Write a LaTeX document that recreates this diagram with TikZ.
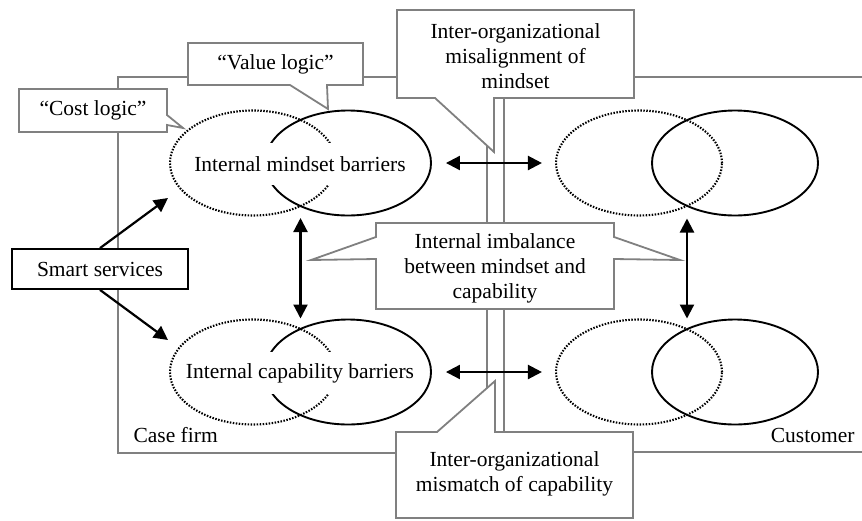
\documentclass[tikz,border=0pt]{standalone}
\usepackage{fontspec}
\setmainfont{Liberation Serif}
\usetikzlibrary{shapes.geometric,arrows.meta,calc}
\begin{document}
\begin{tikzpicture}[x=1pt,y=-1pt,font=\fontsize{21.5}{25}\selectfont,line join=miter,
  frame/.style={draw=black!50,line width=1.8pt},
  callout/.style={draw=black!50,fill=white,line width=1.8pt},
  ell/.style={ellipse,minimum width=166pt,minimum height=105pt,inner sep=0pt,line width=1.9pt},
  dotell/.style={ell,draw,line width=2.1pt,dash pattern=on 1.5pt off 1.5pt},
  solell/.style={ell,draw},
  barrier/.style={fill=white,inner sep=0pt,minimum width=230pt,minimum height=42pt},
  arr/.style={line width=2.2pt,-{Triangle[length=14pt,width=14pt]}},
  dbl/.style={line width=2.2pt,{Triangle[length=14pt,width=14pt]}-{Triangle[length=14pt,width=14pt]}}]
\useasboundingbox (0,0) rectangle (862,520);
\draw[frame] (118,77) rectangle (487,453);
\draw[frame] (504,77) rectangle (880,452);
\node[anchor=base west] (firm) at (130,442) {Case firm};
\node[anchor=base east] (cust) at (858,442) {Customer};

\node[dotell] (mdot) at (253,163) {};
\node[solell] (msol) at (348,163) {};
\node[dotell] (cdot) at (253,372) {};
\node[solell] (csol) at (348,372) {};
\node[dotell] (cmdot) at (639,163) {};
\node[solell] (cmsol) at (735,163) {};
\node[dotell] (ccdot) at (639,372) {};
\node[solell] (ccsol) at (735,372) {};
\node[barrier] (mind) at (300,164) {Internal mindset barriers};
\node[barrier] (capa) at (300,373) {Internal capability barriers};

\node[draw,line width=1.8pt,fill=white,minimum width=176pt,minimum height=40pt,inner sep=0pt] (smart) at (100,269) {Smart services};
\coordinate (mtip) at (168,198);
\coordinate (ctip) at (168,340);
\draw[arr] (smart.north) -- (mtip);
\draw[arr] (smart.south) -- (ctip);
\draw[dbl,shorten <=14pt,shorten >=13pt] (msol.east) -- (cmdot.west);
\draw[dbl,shorten <=14pt,shorten >=13pt] (csol.east) -- (ccdot.west);
\draw[dbl,shorten <=1.5pt] ($(mdot.south)!.5!(msol.south)$) -- ($(cdot.north)!.5!(csol.north)$);
\draw[dbl,shorten <=2pt] ($(cmdot.south)!.5!(cmsol.south)$) -- ($(ccdot.north)!.5!(ccsol.north)$);

\draw[callout] (19,89) -- (167,89) -- (167,115) -- (183,128) -- (167,125) -- (167,132) -- (19,132) -- cycle;
\node (costl) at (93,110.5) {“Cost logic”};
\draw[callout] (188,43) -- (363,43) -- (363,85) -- (327,85) -- (328,109) -- (290,85) -- (188,85) -- cycle;
\node (valuel) at (275.5,64) {“Value logic”};
\draw[callout] (397,10) -- (634,10) -- (634,98) -- (494,98) -- (494,152) -- (435,98) -- (397,98) -- cycle;
\node[align=center] (misal) at (515.5,56) {Inter-organizational\\misalignment of\\mindset};
\draw[callout] (376,223) -- (614,223) -- (614,237) -- (680,260) -- (614,259) -- (614,309) -- (376,309) -- (376,259) -- (311,260) -- (376,237) -- cycle;
\node[align=center] (imbal) at (495,268) {Internal imbalance\\between mindset and\\capability};
\draw[callout] (396,432) -- (437,432) -- (495,381) -- (495,432) -- (633,432) -- (633,518) -- (396,518) -- cycle;
\node[align=center] (mism) at (514.5,474) {Inter-organizational\\mismatch of capability};
\end{tikzpicture}
\end{document}
